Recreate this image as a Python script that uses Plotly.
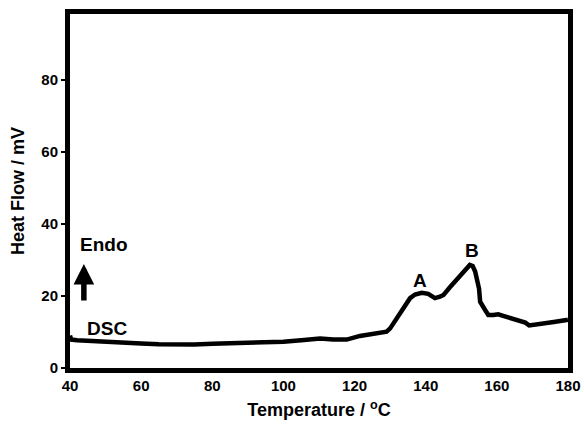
import plotly.graph_objects as go

temperature = [40, 40.3, 42, 45, 50, 55, 60, 65, 70, 75, 80, 85, 90, 95, 100, 105, 110.3, 114, 117.8,
               121.5, 125, 129, 130, 132, 134, 135.6, 137, 138.9, 140.7, 142.6, 144, 145, 146.8,
               149, 151.5, 152.4, 153.2, 153.9, 155, 155.3, 156.7, 157.6, 159, 160.4, 162, 163.7,
               166.5, 168, 169.1, 172, 176, 179.6, 180]
heat_flow = [9.0, 7.9, 7.7, 7.5, 7.2, 7.0, 6.8, 6.6, 6.5, 6.5, 6.7, 6.8, 6.9, 7.1, 7.3, 7.7, 8.2, 7.9, 7.9,
             8.9, 9.4, 10.1, 11.0, 14.0, 17.0, 19.4, 20.4, 20.9, 20.6, 19.4, 19.8, 20.3, 22.4,
             24.8, 27.2, 28.6, 28.3, 26.8, 22.0, 18.4, 16.1, 14.7, 14.7, 14.9, 14.4, 13.8,
             13.1, 12.6, 11.8, 12.3, 12.8, 13.3, 13.4]

x_ticks = [40, 60, 80, 100, 120, 140, 160, 180]
y_ticks = [0, 20, 40, 60, 80]

FONT = "Liberation Sans, Arial, sans-serif"
LBL = dict(size=19, family=FONT, color="black", weight="bold")

fig = go.Figure()
fig.add_trace(go.Scatter(x=temperature, y=heat_flow, mode="lines",
                         line=dict(color="black", width=4.5), hoverinfo="skip", showlegend=False))

ann = [
    dict(x=49.6, y=34.2, text="Endo", showarrow=False, font=LBL),
    dict(x=50.3, y=11.1, text="DSC", showarrow=False, font=LBL),
    dict(x=138.3, y=24.2, text="A", showarrow=False, font=LBL),
    dict(x=153.0, y=32.5, text="B", showarrow=False, font=LBL),
    dict(x=43.9, y=28.9, ax=43.9, ay=18.3, axref="x", ayref="y", xref="x", yref="y", text="",
         showarrow=True, arrowhead=2, arrowsize=0.75, arrowwidth=5.5, arrowcolor="black"),
]

fig.update_layout(
    width=584, height=424,
    margin=dict(l=70, r=16, t=14, b=56),
    paper_bgcolor="white", plot_bgcolor="white",
    font=dict(family=FONT, color="black"),
    annotations=ann,
    xaxis=dict(range=[40, 180], tickvals=x_ticks, showgrid=False, zeroline=False,
               showline=True, linewidth=5, linecolor="black", mirror=True, automargin=False,
               ticks="", tickfont=dict(size=15, family=FONT, weight="bold"),
               title=dict(text="Temperature / <sup>o</sup>C", standoff=12,
                          font=dict(size=18, family=FONT, weight="bold"))),
    yaxis=dict(range=[0, 98.3], tickvals=y_ticks, showgrid=False, zeroline=False,
               showline=True, linewidth=5, linecolor="black", mirror=True, automargin=False,
               ticks="outside", ticklen=4, tickwidth=1.5, tickcolor="black",
               tickfont=dict(size=15, family=FONT, weight="bold"),
               title=dict(text="Heat Flow / mV", standoff=14,
                          font=dict(size=18, family=FONT, weight="bold"))),
)

fig.write_html("out.html", config={"displayModeBar": False},
               post_script="document.body.style.margin='0';document.body.style.overflow='hidden';")
